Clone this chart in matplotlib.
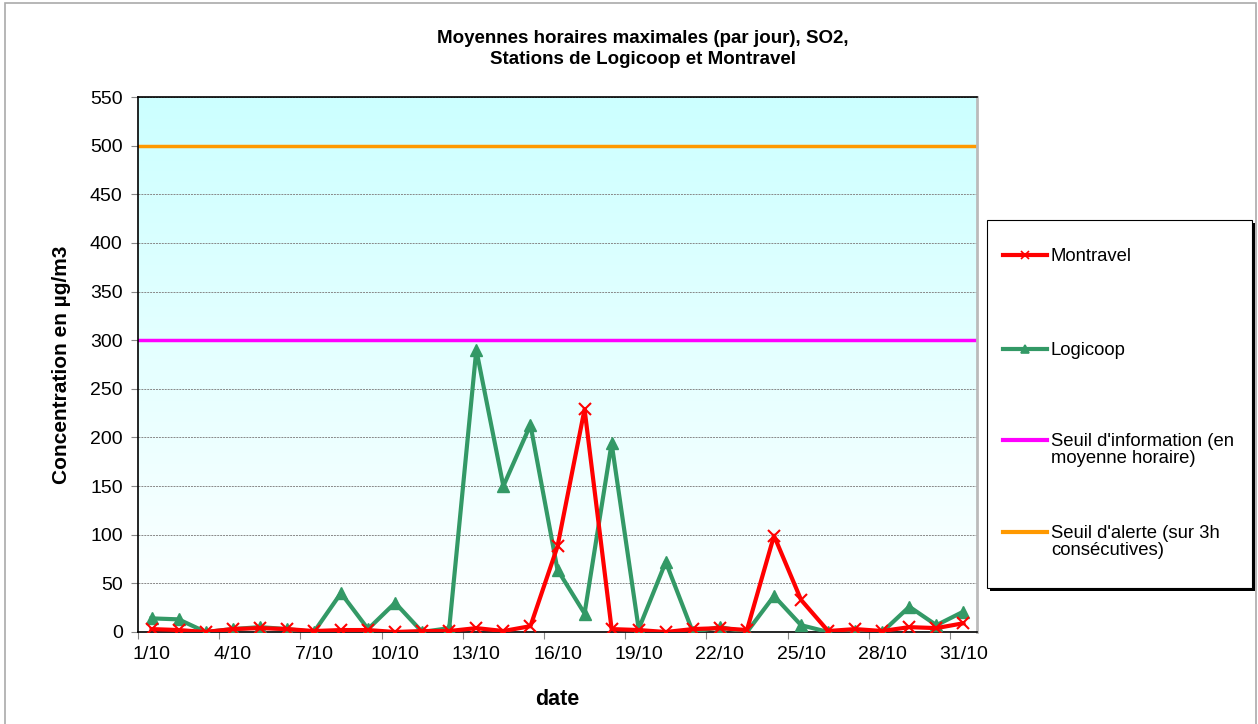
import numpy as np
import matplotlib
matplotlib.use('Agg')
import matplotlib.pyplot as plt
from matplotlib.colors import LinearSegmentedColormap
from matplotlib.lines import Line2D
from matplotlib.patches import Rectangle

plt.rcParams['font.family'] = ['Liberation Sans', 'DejaVu Sans']

days = list(range(1, 32))
montravel = [3, 2, 0, 3, 4, 3, 1, 2, 2, 0, 1, 1, 4, 1, 6, 88, 229, 3, 2, 0,
             3, 4, 2, 99, 33, 1, 3, 1, 5, 4, 9]
logicoop = [14, 13, 0, 3, 5, 3, 0, 40, 3, 30, 0, 4, 290, 150, 213, 64, 19, 194,
            3, 72, 0, 5, 0, 37, 7, 0, 1, 0, 26, 7, 21]
seuil_info = 300
seuil_alerte = 500
tick_days = [1, 4, 7, 10, 13, 16, 19, 22, 25, 28, 31]
tick_labels = ['%d/10' % d for d in tick_days]

fig = plt.figure(figsize=(12.58, 7.24), dpi=100)
ax = fig.add_axes([138/1258, 1 - 632/724, (977-138)/1258, (632-97)/724])

# gradient background (light cyan at top to white at bottom)
cmap = LinearSegmentedColormap.from_list('bg', ['#FFFFFF', '#CCFFFF'])
ax.imshow(np.linspace(0, 1, 256).reshape(-1, 1), cmap=cmap, origin='lower',
          extent=[0, 1, 0, 1], transform=ax.transAxes, aspect='auto', zorder=0)

ax.set_xlim(0.5, 31.5)
ax.set_ylim(0, 550)
ax.set_yticks(range(0, 551, 50))
ax.yaxis.grid(True, color='#888888', linestyle=(0, (2, 1)), linewidth=0.7)
ax.set_axisbelow(True)

ax.axhline(seuil_alerte, color='#FF9900', linewidth=2.5, zorder=2)
ax.axhline(seuil_info, color='#FF00FF', linewidth=2.5, zorder=2)
ax.plot(days, montravel, color='#FF0000', linewidth=3, marker='x',
        markersize=9, markeredgewidth=1.5, zorder=4)
ax.plot(days, logicoop, color='#339966', linewidth=3, marker='^',
        markersize=9, zorder=3)

ax.set_xticks([d - 0.5 for d in tick_days])
ax.set_xticklabels([])
ax.set_xticks(tick_days, minor=True)
ax.set_xticklabels(tick_labels, minor=True)
ax.tick_params(axis='x', which='minor', length=0, labelsize=14, pad=10)
ax.tick_params(axis='x', which='major', length=5, color='#888888', direction='out')
ax.tick_params(axis='y', length=5, color='#888888', labelsize=14, pad=6)

for s in ['left', 'bottom', 'top']:
    ax.spines[s].set_color('black')
    ax.spines[s].set_linewidth(1.2)
ax.spines['right'].set_color('#BBBBBB')
ax.spines['right'].set_linewidth(2)

ax.set_ylabel('Concentration en µg/m3', fontsize=15, fontweight='bold', labelpad=14)
ax.set_xlabel('date', fontsize=15.5, fontweight='bold', labelpad=19)

fig.text(643/1258, 1 - 49/724,
         'Moyennes horaires maximales (par jour), SO2,\nStations de Logicoop et Montravel',
         ha='center', va='center', fontsize=13.5, fontweight='bold', linespacing=1.3)

# figure border
fig.patches.append(Rectangle((5/1258, -0.01), (1256-5)/1258, 1 - 3/724 + 0.01,
                             transform=fig.transFigure, fill=False,
                             edgecolor='#AAAAAA', linewidth=1.2))

# legend box with shadow
fig.patches.append(Rectangle((990/1258, 1 - 591/724), 265/1258, 368/724,
                             transform=fig.transFigure, facecolor='black',
                             edgecolor='none', zorder=1))
fig.patches.append(Rectangle((987/1258, 1 - 588/724), 265/1258, 368/724,
                             transform=fig.transFigure, facecolor='white',
                             edgecolor='black', linewidth=0.8, zorder=2))

leg_colors = ['#FF0000', '#339966', '#FF00FF', '#FF9900']
leg_markers = ['x', '^', None, None]
leg_labels = ['Montravel', 'Logicoop', "Seuil d'information (en\nmoyenne horaire)",
              "Seuil d'alerte (sur 3h\nconsécutives)"]
leg_rows = [255, 349, 440, 532]
for c, m, lab, row in zip(leg_colors, leg_markers, leg_labels, leg_rows):
    y = 1 - row/724
    fig.add_artist(Line2D([1003/1258, 1047/1258], [y, y], transform=fig.transFigure,
                          color=c, linewidth=3, zorder=3))
    if m:
        fig.add_artist(Line2D([1025/1258], [y], transform=fig.transFigure, color=c,
                              marker=m, markersize=6, markeredgewidth=1.2,
                              linestyle='none', zorder=4))
    fig.text(1051/1258, 1 - (row - 7)/724, lab, ha='left', va='top', fontsize=13.3,
             linespacing=1.0, zorder=4)

fig.savefig('out.png', dpi=100)
